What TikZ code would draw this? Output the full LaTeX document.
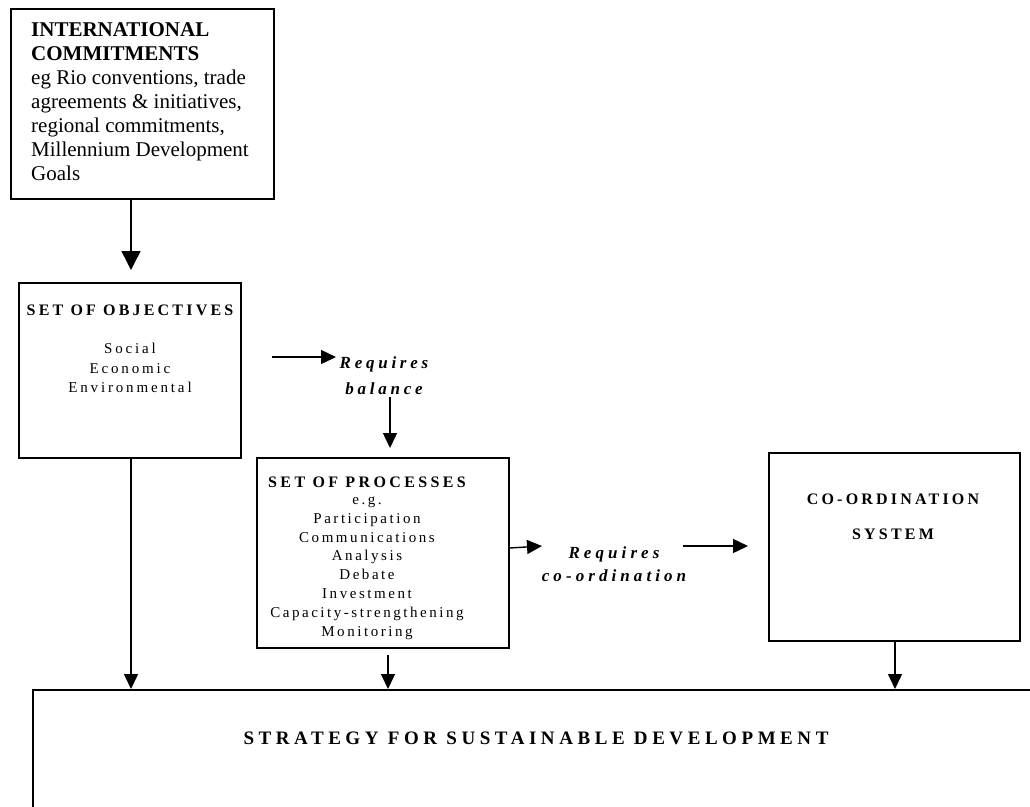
\documentclass[tikz,border=0pt]{standalone}
\usepackage{fontspec}
\setmainfont{Liberation Serif}
\newfontfamily\lsA[LetterSpace=20]{Liberation Serif}
\newfontfamily\lsB[LetterSpace=19]{Liberation Serif}
\newfontfamily\lsC[LetterSpace=21]{Liberation Serif}
\newfontfamily\lsD[LetterSpace=17]{Liberation Serif}
\newfontfamily\lsE[LetterSpace=22]{Liberation Serif}
\newfontfamily\lsF[LetterSpace=24]{Liberation Serif}
\usetikzlibrary{arrows.meta}
\tikzset{
  box/.style={draw, line width=1.8pt, anchor=north west, inner sep=0pt},
  arr/.style={line width=1.4pt, -{Triangle[length=15pt,width=14pt]}},
  bigarr/.style={line width=1.4pt, -{Triangle[length=19pt,width=19pt]}},
  lbl/.style={inner sep=0pt, align=center},
}
\begin{document}
\begin{tikzpicture}[x=1pt,y=-1pt]
\clip (0,0) rectangle (1030,806);
\fill[white] (0,0) rectangle (1030,806);
% boxes
\node[box, minimum width=263pt, minimum height=190pt] (intl) at (10,8) {};
\node[box, minimum width=222pt, minimum height=175pt] (obj) at (18,282) {};
\node[box, minimum width=252pt, minimum height=190pt] (proc) at (256,457) {};
\node[box, minimum width=251pt, minimum height=188pt] (coord) at (768,452) {};
\node[box, minimum width=1020pt, minimum height=200pt] (strat) at (32,689) {};
% texts
\node[lbl, anchor=west, align=left, font=\fontsize{21}{24}\selectfont] (intltxt) at (31,102)
 {\textbf{INTERNATIONAL}\\\textbf{COMMITMENTS}\\eg Rio conventions, trade\\agreements \& initiatives,\\regional commitments,\\Millennium Development\\Goals};
\node[lbl, font=\fontsize{16}{20}\selectfont\lsA\bfseries] (objtitle) at (130,310) {SET OF OBJECTIVES};
\node[lbl, font=\fontsize{15}{19.5}\selectfont\lsB] (objtxt) at (130,368) {Social\\Economic\\Environmental};
\node[lbl, font=\fontsize{17}{26}\selectfont\lsE\bfseries\itshape] (bal) at (384,376) {Requires\\balance};
\node[lbl, font=\fontsize{16}{16}\selectfont\lsC\bfseries] (proctitle) at (367,482) {SET OF PROCESSES};
\node[lbl, font=\fontsize{15}{18.8}\selectfont\lsD] (proctxt) at (367,568) {e.g.\\Participation\\Communications\\Analysis\\Debate\\Investment\\Capacity\,-strengthening\\Monitoring};
\node[lbl, font=\fontsize{17}{23}\selectfont\lsF\bfseries\itshape] (crd) at (614,564) {Requires\\co-ordination};
\node[lbl, font=\fontsize{16}{35}\selectfont\lsA\bfseries] (coordtxt) at (893,517) {CO-ORDINATION\\SYSTEM};
\node[lbl, font=\fontsize{19}{19}\selectfont\lsF\bfseries] (strattxt) at (536,738) {STRATEGY FOR SUSTAINABLE DEVELOPMENT};
% arrows
\coordinate (a1) at (131,270);
\draw[bigarr] (intl.south -| a1) -- (a1);
\coordinate (b0) at (272,357);
\coordinate (b1) at (336,357);
\draw[arr] (b0) -- (b1);
\coordinate (c0) at (390,397);
\coordinate (c1) at (390,448);
\draw[arr] (c0) -- (c1);
\coordinate (d1) at (542,546);
\draw[arr] (proc.east |- 0,548) -- (d1);
\coordinate (e0) at (683,546);
\coordinate (e1) at (748,546);
\draw[arr] (e0) -- (e1);
\draw[arr] (obj.south -| a1) -- (strat.north -| a1);
\coordinate (f0) at (388,655);
\draw[arr] (f0) -- (strat.north -| f0);
\coordinate (g0) at (895,640);
\draw[arr] (coord.south -| g0) -- (strat.north -| g0);
\end{tikzpicture}
\end{document}
